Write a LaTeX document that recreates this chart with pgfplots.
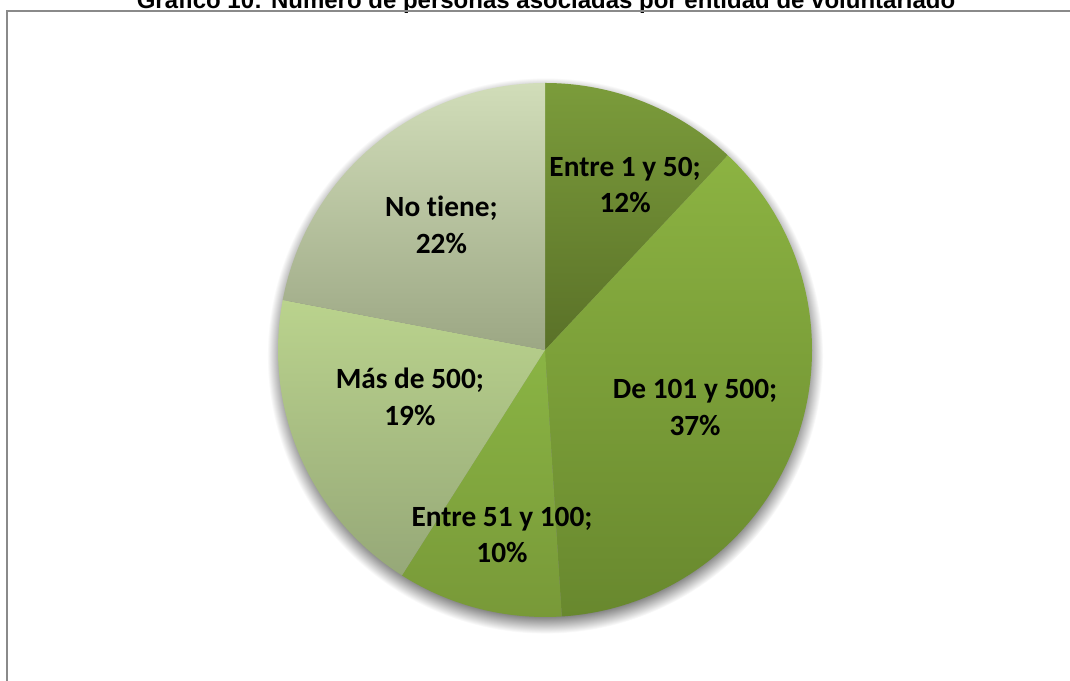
\documentclass[border=0pt]{standalone}
\usepackage{pgfplots}
\pgfplotsset{compat=1.18}
\usepackage{fontspec}
\setmainfont{Carlito}[Ligatures={NoCommon}]
\newfontfamily\titlefont{Liberation Sans}
\definecolor{frame}{HTML}{8A8A8A}
\definecolor{s1t}{HTML}{7B9C3B}
\definecolor{s1b}{HTML}{5A7128}
\definecolor{s2t}{HTML}{8CB342}
\definecolor{s2b}{HTML}{68882E}
\definecolor{s3t}{HTML}{8AB444}
\definecolor{s3b}{HTML}{789938}
\definecolor{s4t}{HTML}{BAD38D}
\definecolor{s4b}{HTML}{96A878}
\definecolor{s5t}{HTML}{D1DDB9}
\definecolor{s5b}{HTML}{9CA784}
\pgfdeclareradialshading{pieshadow}{\pgfpoint{0bp}{0bp}}{rgb(0bp)=(0.5,0.5,0.5); rgb(23.4bp)=(0.5,0.5,0.5); rgb(25bp)=(1,1,1); rgb(50bp)=(1,1,1)}
\begin{document}
\begin{tikzpicture}[x=0.75pt,y=0.75pt]
\useasboundingbox (0,0) rectangle (1070,681);
\fill[white] (0,0) rectangle (1070,681);
\node[anchor=base, inner sep=0pt, font=\titlefont\bfseries\fontsize{18}{21}\selectfont] at (546,672.5) {Gráfico 10: Número de personas asociadas por entidad de voluntariado};
\draw[line width=1.2pt, color=frame] (7,-20) -- (7,670) -- (1100,670);
\begin{axis}[at={(408.75pt,248.25pt)}, anchor=center, width=400.5pt, height=400.5pt,
  scale only axis, xmin=-1, xmax=1, ymin=-1, ymax=1, hide axis, clip=false]
\shade[shading=pieshadow] (axis cs:0,-0.021) circle[radius=208.5pt];
\gdef\cum{90}
\foreach \v/\ct/\cb in {12/s1t/s1b,37/s2t/s2b,10/s3t/s3b,19/s4t/s4b,22/s5t/s5b}{
  \pgfmathsetmacro\a{\cum}
  \pgfmathsetmacro\b{\cum-3.6*\v}
  \edef\temp{\noexpand\shade[top color=\ct,bottom color=\cb] (axis cs:0,0) -- ++(\a:200.25pt) arc[start angle=\a,end angle=\b,radius=200.25pt] -- cycle;}
  \temp
  \xdef\cum{\b}
}
\begin{scope}[every node/.style={align=center, inner sep=0pt, font=\bfseries\fontsize{22}{27.5}\selectfont}]
\node at (axis cs:0.300,0.618) {Entre 1 y 50;\\12\%};
\node at (axis cs:0.562,-0.215) {De 101 y 500;\\37\%};
\node at (axis cs:-0.161,-0.693) {Entre 51 y 100;\\10\%};
\node at (axis cs:-0.506,-0.176) {Más de 500;\\19\%};
\node at (axis cs:-0.388,0.470) {No tiene;\\22\%};
\end{scope}
\end{axis}
\end{tikzpicture}
\end{document}
